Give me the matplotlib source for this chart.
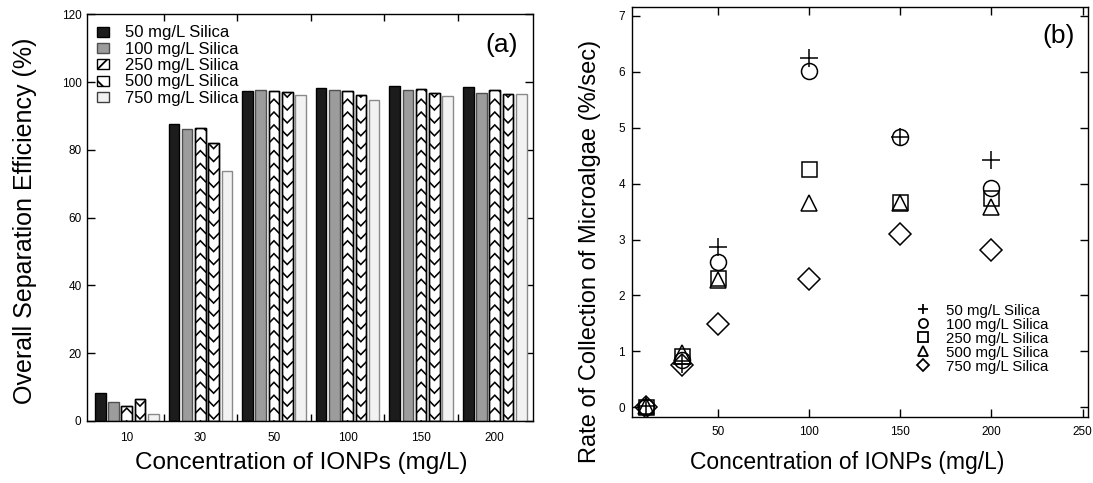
import numpy as np
import matplotlib
matplotlib.use("Agg")
import matplotlib.pyplot as plt
from matplotlib.patches import Patch
from matplotlib.lines import Line2D
from matplotlib.ticker import FixedLocator, NullFormatter

plt.rcParams["font.family"] = ["Liberation Sans", "DejaVu Sans"]

# ---- data ----
ionp_labels = ["10", "30", "50", "100", "150", "200"]
ionp_conc = [10, 30, 50, 100, 150, 200]
silica_labels = ["50 mg/L Silica", "100 mg/L Silica", "250 mg/L Silica",
                 "500 mg/L Silica", "750 mg/L Silica"]

# overall separation efficiency (%), one list per silica level
eff_50 = [8.2, 87.6, 97.3, 98.4, 98.8, 98.5]
eff_100 = [5.5, 86.1, 97.8, 97.6, 97.6, 96.7]
eff_250 = [4.5, 86.6, 97.4, 97.5, 98.0, 97.8]
eff_500 = [6.4, 82.2, 97.0, 96.2, 96.8, 96.5]
eff_750 = [2.2, 73.7, 96.3, 94.9, 95.9, 96.5]

# rate of collection of microalgae (%/sec)
rate_50 = [0.02, 0.78, 2.87, 6.25, 4.84, 4.42]
rate_100 = [0.0, 0.85, 2.60, 6.02, 4.84, 3.92]
rate_250 = [0.0, 0.92, 2.32, 4.27, 3.67, 3.74]
rate_500 = [0.03, 0.97, 2.28, 3.65, 3.65, 3.59]
rate_750 = [0.0, 0.75, 1.48, 2.30, 3.10, 2.81]

eff_series = [eff_50, eff_100, eff_250, eff_500, eff_750]
rate_series = [rate_50, rate_100, rate_250, rate_500, rate_750]

fig = plt.figure(figsize=(10.93, 4.83), dpi=100)

# ---------------- panel (a): grouped bars ----------------
ax1 = fig.add_axes([0.0796, 0.1284, 0.4081, 0.8416])
x = np.arange(len(ionp_labels))
step, width = 0.18, 0.144

bar_faces = ["#1c1c1c", "#9c9c9c", "white", "white", "#f2f2f2"]
bar_edges = ["black", "#505050", "black", "black", "#8a8a8a"]
# herringbone fill: +1 -> chevrons pointing up, -1 -> pointing down
chevron_dir = {2: 1, 3: -1}
chev_period, chev_amp = 3.8, 1.6   # in percent units


def herringbone(ax, rect, direction):
    """Fill a bar with stacked chevrons, clipped to the bar outline."""
    x0, w, h = rect.get_x(), rect.get_width(), rect.get_height()
    xs = [x0, x0 + w / 2, x0 + w]
    for y0 in np.arange(-chev_amp, h + chev_period, chev_period):
        ys = [y0, y0 + direction * chev_amp, y0]
        ln, = ax.plot(xs, ys, color="black", lw=1.15, zorder=3,
                      solid_joinstyle="miter")
        ln.set_clip_path(rect)


for k, vals in enumerate(eff_series):
    pos = x + (k - 2) * step
    bars = ax1.bar(pos, vals, width, color=bar_faces[k],
                   edgecolor=bar_edges[k], linewidth=1.0, zorder=2)
    if k in chevron_dir:
        for rect in bars:
            herringbone(ax1, rect, chevron_dir[k])
        ax1.bar(pos, vals, width, color="none", edgecolor="black",
                linewidth=1.0, zorder=4)

ax1.set_xlim(-0.54, 5.52)
ax1.set_ylim(0, 120)
ax1.set_xticks(x)
ax1.set_xticklabels(ionp_labels)
ax1.xaxis.set_minor_locator(FixedLocator(x[:-1] + 0.5))
ax1.xaxis.set_minor_formatter(NullFormatter())
ax1.set_yticks(np.arange(0, 121, 20))
ax1.tick_params(axis="x", which="major", length=0, pad=8, labelsize=8.5)
ax1.tick_params(axis="x", which="minor", direction="in", length=5,
                top=True, bottom=True, width=1)
ax1.tick_params(axis="y", direction="in", length=6, left=True, right=True,
                pad=4, labelsize=8.5, width=1)
for s in ax1.spines.values():
    s.set_linewidth(1.0)

plt.rcParams["hatch.linewidth"] = 1.3
leg1_handles = [
    Patch(facecolor=bar_faces[0], edgecolor=bar_edges[0]),
    Patch(facecolor=bar_faces[1], edgecolor=bar_edges[1]),
    Patch(facecolor="white", edgecolor="black", hatch="//"),
    Patch(facecolor="white", edgecolor="black", hatch="\\\\"),
    Patch(facecolor=bar_faces[4], edgecolor="#404040"),
]
ax1.legend(leg1_handles, silica_labels, loc="upper left",
           bbox_to_anchor=(0.022, 0.973), frameon=False, fontsize=12,
           handlelength=0.75, handleheight=0.55, handletextpad=0.95,
           labelspacing=0.08, borderpad=0, borderaxespad=0)
ax1.text(0.93, 0.925, "(a)", transform=ax1.transAxes, fontsize=19,
         ha="center", va="center")

# ---------------- panel (b): scatter ----------------
ax2 = fig.add_axes([0.5782, 0.1373, 0.4172, 0.8482])
markers = ["+", "o", "s", "^", "D"]
msizes = [13, 11.5, 10.8, 12, 10.7]
for k, vals in enumerate(rate_series):
    ax2.plot(ionp_conc, vals, linestyle="none", marker=markers[k],
             markersize=msizes[k], markerfacecolor="none",
             markeredgecolor="black", markeredgewidth=1.1, color="black",
             zorder=3)

ax2.set_xlim(2.5, 253)
ax2.set_ylim(-0.17, 7.16)
ax2.set_xticks([50, 100, 150, 200, 250])
ax2.set_yticks(range(0, 8))
ax2.tick_params(axis="both", direction="in", length=6, top=True, right=True,
                labelsize=8.5, width=1)
ax2.tick_params(axis="x", pad=7)
ax2.tick_params(axis="y", pad=5)
for s in ax2.spines.values():
    s.set_linewidth(1.0)

leg2_handles = [Line2D([], [], linestyle="none", marker=m, markersize=6.5,
                       markerfacecolor="none", markeredgecolor="black",
                       markeredgewidth=1.3) for m in markers]
ax2.legend(leg2_handles, silica_labels, loc="upper left",
           bbox_to_anchor=(0.622, 0.276), frameon=False, fontsize=10.8,
           handlelength=1.0, handletextpad=1.0, labelspacing=0.0,
           borderpad=0, borderaxespad=0)
ax2.text(0.935, 0.93, "(b)", transform=ax2.transAxes, fontsize=19,
         ha="center", va="center")

# ---------------- axis titles ----------------
fig.text(301 / 1093, 1 - 463 / 483, "Concentration of IONPs (mg/L)",
         ha="center", va="center", fontsize=17.5)
fig.text(847 / 1093, 1 - 463 / 483, "Concentration of IONPs (mg/L)",
         ha="center", va="center", fontsize=16.5)
fig.text(25 / 1093, 1 - 221 / 483, "Overall Separation Efficiency (%)",
         ha="center", va="center", rotation=90, fontsize=18)
fig.text(590 / 1093, 1 - 251 / 483, "Rate of Collection of Microalgae (%/sec)",
         ha="center", va="center", rotation=90, fontsize=17)

fig.savefig("out.png", dpi=100)
